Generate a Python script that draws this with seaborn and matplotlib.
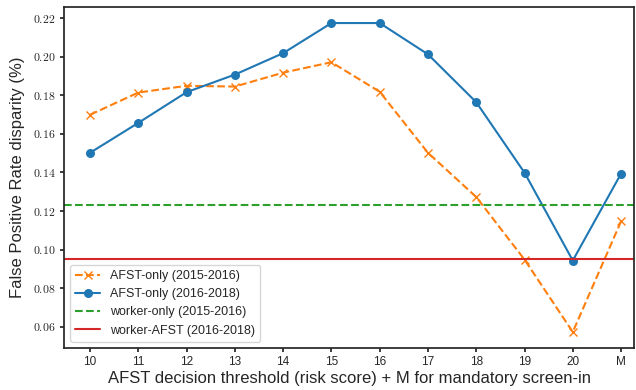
import matplotlib
matplotlib.use("Agg")
import matplotlib.pyplot as plt
import seaborn as sns
import pandas as pd
from matplotlib.ticker import FuncFormatter

thresholds = ["10", "11", "12", "13", "14", "15", "16", "17", "18", "19", "20", "M"]
afst_1516 = [0.1699, 0.1814, 0.1849, 0.1845, 0.1917, 0.1971, 0.1818, 0.1502, 0.1273, 0.0949, 0.0574, 0.1147]
afst_1618 = [0.1502, 0.1657, 0.1816, 0.1907, 0.2018, 0.2174, 0.2174, 0.2012, 0.1764, 0.1399, 0.0944, 0.1394]
worker_only_1516 = 0.1232
worker_afst_1618 = 0.0950

sns.set_theme(style="ticks")
plt.rcParams["font.family"] = ["Liberation Sans", "DejaVu Sans"]
plt.rcParams["mathtext.fontset"] = "cm"

df = pd.DataFrame({"t": thresholds, "a1516": afst_1516, "a1618": afst_1618})

fig = plt.figure(figsize=(6.36, 3.9), dpi=100)
ax = fig.add_axes([0.1006, 0.1077, 0.8964, 0.8743])

c = sns.color_palette("tab10")
sns.lineplot(data=df, x="t", y="a1516", ax=ax, color=c[1], linestyle="--", marker="x",
             markersize=6, markeredgewidth=1.0, markeredgecolor=c[1], linewidth=1.5,
             label="AFST-only (2015-2016)", sort=False)
sns.lineplot(data=df, x="t", y="a1618", ax=ax, color=c[0], marker="o", markersize=6.5,
             markeredgewidth=0, linewidth=1.5, label="AFST-only (2016-2018)", sort=False)
ax.axhline(worker_only_1516, color=c[2], linestyle="--", linewidth=1.5, label="worker-only (2015-2016)")
ax.axhline(worker_afst_1618, color=c[3], linestyle="-", linewidth=1.5, label="worker-AFST (2016-2018)")

ax.set_xlim(-0.54, 11.27)
ax.set_ylim(0.0491, 0.2257)
ax.set_yticks([0.06, 0.08, 0.10, 0.12, 0.14, 0.16, 0.18, 0.20, 0.22])
ax.yaxis.set_major_formatter(FuncFormatter(lambda v, p: r"$%.2f$" % v))
ax.tick_params(axis="x", labelsize=8.5, length=3, pad=3)
ax.tick_params(axis="y", labelsize=8.5, length=3, pad=3)
ax.set_xlabel("AFST decision threshold (risk score) + M for mandatory screen-in", fontsize=12, labelpad=2)
ax.set_ylabel("False Positive Rate disparity (%)", fontsize=12, labelpad=6)
for s in ax.spines.values():
    s.set_visible(True)
ax.legend(loc="lower left", fontsize=9, frameon=True)

fig.savefig("out.png", dpi=100)
